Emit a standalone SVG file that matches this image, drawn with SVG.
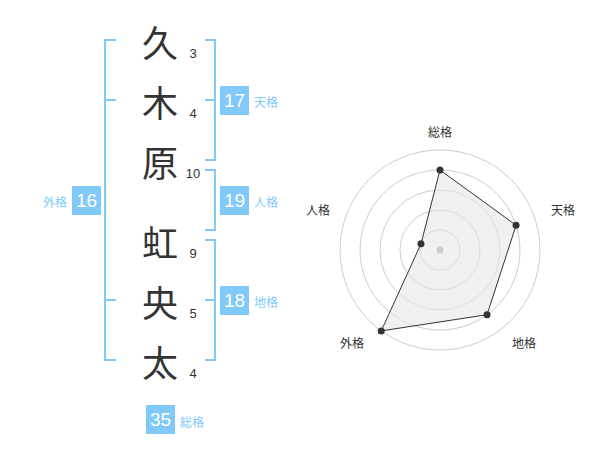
<svg xmlns="http://www.w3.org/2000/svg" width="600" height="470" viewBox="0 0 600 470">
<style>
.br{fill:none;stroke:#80c9f8;stroke-width:2}
.kj{font-family:"Noto Sans CJK JP","Noto Sans CJK SC",sans-serif;font-size:36px;fill:#333;text-anchor:middle;dominant-baseline:central}
.st{font-family:"Liberation Sans",Arial,sans-serif;font-size:13px;fill:#333;text-anchor:middle}
.bx{fill:#80c9f8}
.bn{font-family:"Liberation Sans",Arial,sans-serif;font-size:19px;fill:#fff;text-anchor:middle;dominant-baseline:central}
.bl{font-family:"Noto Sans CJK JP",sans-serif;font-size:12px;fill:#80c9f8;dominant-baseline:central}
.ring{fill:none;stroke:#cccccc;stroke-width:1}
.rl{font-family:"Noto Sans CJK JP",sans-serif;font-size:12px;fill:#333;text-anchor:middle;dominant-baseline:central}
.pt{fill:#333}
</style>
<rect width="600" height="470" fill="#fff"/>
<g id="connectors">
<path class="br" d="M116,40H105V360H116M105,100H116M105,300H116"/>
<path class="br" d="M205,40H215V160H205M205,100H215"/>
<path class="br" d="M205,170H215V230H205"/>
<path class="br" d="M205,240H215V360H205M205,300H215"/>
</g>
<g id="chars">
<g id="c1"><text class="kj" x="160" y="41">久</text><text class="st" x="193" y="58">3</text></g>
<g id="c2"><text class="kj" x="160" y="101">木</text><text class="st" x="193" y="118">4</text></g>
<g id="c3"><text class="kj" x="160" y="161">原</text><text class="st" x="193" y="178">10</text></g>
<g id="c4"><text class="kj" x="160" y="241">虹</text><text class="st" x="193" y="258">9</text></g>
<g id="c5"><text class="kj" x="160" y="301">央</text><text class="st" x="193" y="318">5</text></g>
<g id="c6"><text class="kj" x="160" y="361">太</text><text class="st" x="193" y="378">4</text></g>
</g>
<g id="tenkaku"><rect class="bx" x="220" y="86" width="29" height="29"/><text class="bn" x="234.5" y="100.5">17</text><text class="bl" x="254" y="101">天格</text></g>
<g id="jinkaku"><rect class="bx" x="220" y="186" width="29" height="29"/><text class="bn" x="234.5" y="200.5">19</text><text class="bl" x="254" y="201">人格</text></g>
<g id="chikaku"><rect class="bx" x="220" y="286" width="29" height="29"/><text class="bn" x="234.5" y="300.5">18</text><text class="bl" x="254" y="301">地格</text></g>
<g id="gaikaku"><rect class="bx" x="72" y="186" width="29" height="29"/><text class="bn" x="86.5" y="200.5">16</text><text class="bl" x="67" y="201" text-anchor="end">外格</text></g>
<g id="soukaku"><rect class="bx" x="146" y="405" width="29" height="29"/><text class="bn" x="160.5" y="419.5">35</text><text class="bl" x="180" y="421">総格</text></g>
<g id="radar">
<circle class="ring" cx="440" cy="250" r="20"/>
<circle class="ring" cx="440" cy="250" r="40"/>
<circle class="ring" cx="440" cy="250" r="60"/>
<circle class="ring" cx="440" cy="250" r="80"/>
<circle class="ring" cx="440" cy="250" r="100"/>
<polygon points="440,170 516.08,225.28 487.02,314.72 381.22,330.9 420.98,243.82" fill="#e6e6e6" fill-opacity="0.6" stroke="#333" stroke-width="1"/>
<circle cx="440" cy="250" r="3.5" fill="#ccc"/>
<circle class="pt" cx="440" cy="170" r="3.5"/>
<circle class="pt" cx="516.08" cy="225.28" r="3.5"/>
<circle class="pt" cx="487.02" cy="314.72" r="3.5"/>
<circle class="pt" cx="381.22" cy="330.9" r="3.5"/>
<circle class="pt" cx="420.98" cy="243.82" r="3.5"/>
<text class="rl" x="440" y="131">総格</text>
<text class="rl" x="563" y="209">天格</text>
<text class="rl" x="524" y="342">地格</text>
<text class="rl" x="352" y="342">外格</text>
<text class="rl" x="318" y="209">人格</text>
</g>
</svg>
